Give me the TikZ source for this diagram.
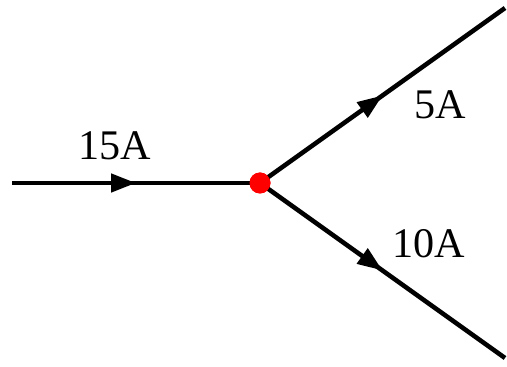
\documentclass[tikz,border=0pt]{standalone}
\usepackage{fontspec}
\setmainfont{Liberation Serif}
\usetikzlibrary{arrows.meta,decorations.markings}
\begin{document}
\begin{tikzpicture}[
    x=0.02cm, y=-0.02cm,
    every node/.style={font=\fontsize{24}{28}\selectfont},
    wire/.style={line width=2.6pt, postaction={decorate},
                 decoration={markings, mark=at position 0.5 with
                 {\arrow{Triangle[length=0.5cm, width=0.36cm]}}}},
    junction/.style={circle, fill=red, inner sep=0pt, minimum size=0.42cm},
]
    \useasboundingbox (0,0) rectangle (507,367);
    \coordinate (in) at (12,183);
    \coordinate (outa) at (505,8);
    \coordinate (outb) at (505,358);
    \node[junction] (j) at (260,183) {};
    \draw[wire] (in) -- (j.center);
    \draw[wire] (j.center) -- (outa);
    \draw[wire] (j.center) -- (outb);
    \node[junction] at (j) {};
    \node (lin) at (115,146) {15A};
    \node (la) at (440,105) {5A};
    \node (lb) at (429,244) {10A};
\end{tikzpicture}
\end{document}
